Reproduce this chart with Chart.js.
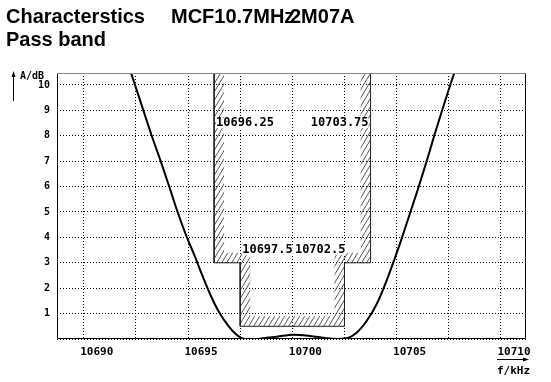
<!DOCTYPE html>
<html><head><meta charset="utf-8">
<script src="https://cdn.jsdelivr.net/npm/chart.js@4/dist/chart.umd.min.js"></script>
<style>html,body{margin:0;padding:0;background:#fff}#wrap{width:551px;height:382px}</style>
</head><body><div id="wrap"><canvas id="c" width="551" height="382"></canvas></div>
<script>
// ---- data ----
const freqKHz = [10692.05, 10692.27, 10692.46, 10692.86, 10693.26, 10693.69, 10694.10, 10694.50, 10694.97, 10695.33, 10695.65, 10696.05, 10696.45, 10696.93, 10697.33, 10697.73, 10698.29, 10698.77, 10699.25, 10700.05, 10700.85, 10701.64, 10702.12, 10702.60, 10703.08, 10703.56, 10704.04, 10704.52, 10704.90, 10705.24, 10705.64, 10706.04, 10706.44, 10706.80, 10707.18, 10707.57, 10708.05];
const attenDB = [11.0, 10.47, 10.0, 9.0, 8.0, 7.0, 6.0, 5.0, 3.95, 3.25, 2.57, 1.78, 1.11, 0.52, 0.17, 0.0, 0.0, 0.05, 0.09, 0.17, 0.12, 0.03, 0.0, 0.03, 0.25, 0.71, 1.37, 2.3, 3.15, 3.95, 4.95, 5.95, 7.0, 8.0, 9.0, 10.0, 11.15];
const maskFreq = [10696.25, 10696.25, 10697.5, 10697.5, 10702.5, 10702.5, 10703.75, 10703.75];
const maskAtten = [11.5, 3, 3, 0.5, 0.5, 3, 3, 11.5];
const xTickValues = [10690, 10692.5, 10695, 10697.5, 10700, 10702.5, 10705, 10707.5, 10710];
const xTickLabels = ['10690', '', '10695', '', '10700', '', '10705', '', '10710'];
const yTickValues = [0, 1, 2, 3, 4, 5, 6, 7, 8, 9, 10];
const yTickLabels = ['', '1', '2', '3', '4', '5', '6', '7', '8', '9', '10'];
const titleLine1a = 'Characterstics';
const titleLine1b = 'MCF10.7MHz';
const titleLine1c = '2M07A';
const titleLine2 = 'Pass band';
const yUnit = 'A/dB';
const xUnit = 'f/kHz';

const MONO = "'DejaVu Sans Mono', 'Liberation Mono', monospace";

const bgPlugin = {
  id: 'bg',
  beforeDraw(chart) {
    const ctx = chart.ctx;
    ctx.save();
    ctx.fillStyle = '#fff';
    ctx.fillRect(0, 0, chart.width, chart.height);
    ctx.restore();
  }
};

const hatchPlugin = {
  id: 'hatch',
  beforeDatasetsDraw(chart) {
    const {ctx, chartArea: ca, scales: {x, y}} = chart;
    const pts = maskFreq.map((f, i) => [x.getPixelForValue(f), Math.max(y.getPixelForValue(maskAtten[i]), ca.top)]);
    const d = 10;
    const sx = [1, 1, 1, 1, -1, -1, -1, -1];
    const sy = [0, -1, -1, -1, -1, -1, -1, 0];
    const inner = pts.map((p, i) => [p[0] + sx[i] * d, p[1] + sy[i] * d]);
    ctx.save();
    ctx.beginPath();
    pts.forEach((p, i) => i ? ctx.lineTo(p[0], p[1]) : ctx.moveTo(p[0], p[1]));
    ctx.closePath();
    inner.forEach((p, i) => i ? ctx.lineTo(p[0], p[1]) : ctx.moveTo(p[0], p[1]));
    ctx.closePath();
    ctx.clip('evenodd');
    ctx.strokeStyle = '#444';
    ctx.lineWidth = 0.9;
    ctx.beginPath();
    const h = ca.bottom - ca.top;
    for (let k = ca.left - h; k < ca.right + 10; k += 5) {
      ctx.moveTo(k, ca.bottom);
      ctx.lineTo(k + h * 0.6, ca.top);
    }
    ctx.stroke();
    ctx.restore();
  }
};

const labelPlugin = {
  id: 'labels',
  afterDatasetsDraw(chart) {
    const {ctx, chartArea: ca, scales: {x, y}} = chart;
    // frame
    ctx.save();
    ctx.lineWidth = 1;
    ctx.strokeStyle = '#000';
    const L = Math.round(ca.left) + 0.5, R = Math.round(ca.right) - 0.5, T = Math.round(ca.top) + 0.5, B = Math.round(ca.bottom) - 0.5;
    ctx.beginPath();
    ctx.moveTo(L, T); ctx.lineTo(L, B); ctx.lineTo(R, B); ctx.lineTo(R, T);
    ctx.stroke();
    ctx.strokeStyle = '#888';
    ctx.beginPath(); ctx.moveTo(L, T); ctx.lineTo(R, T); ctx.stroke();

    // mask frequency labels
    ctx.font = 'bold 12px ' + MONO;
    ctx.textBaseline = 'middle';
    const items = [
      {f: maskFreq[0], a: 8.5, al: 'left', dx: 2},
      {f: maskFreq[7], a: 8.5, al: 'right', dx: -2},
      {f: maskFreq[2], a: 3.5, al: 'left', dx: 2},
      {f: maskFreq[4], a: 3.5, al: 'right', dx: 1}
    ];
    items.forEach(it => {
      const t = String(it.f);
      const w = ctx.measureText(t).width;
      const px = x.getPixelForValue(it.f) + it.dx;
      const py = y.getPixelForValue(it.a);
      const left = it.al === 'left' ? px : px - w;
      ctx.fillStyle = '#fff';
      ctx.fillRect(left, py - 5, w, 10);
      ctx.fillStyle = '#000';
      ctx.textAlign = 'left';
      ctx.fillText(t, left, py);
    });
    ctx.restore();
  },
  afterDraw(chart) {
    const {ctx, scales: {x}} = chart;
    ctx.save();
    ctx.fillStyle = '#000';
    ctx.textBaseline = 'alphabetic';
    ctx.textAlign = 'left';
    ctx.font = "bold 20px 'Liberation Sans', Arial, sans-serif";
    ctx.fillText(titleLine1a, 6, 23);
    ctx.fillText(titleLine1b, 171, 23);
    ctx.fillText(titleLine1c, 290, 23);
    ctx.fillText(titleLine2, 6, 46);

    // y unit with arrow
    ctx.strokeStyle = '#000';
    ctx.lineWidth = 1;
    ctx.beginPath(); ctx.moveTo(13.5, 101); ctx.lineTo(13.5, 74); ctx.stroke();
    ctx.beginPath(); ctx.moveTo(13.5, 71); ctx.lineTo(11.5, 77); ctx.lineTo(15.5, 77); ctx.closePath(); ctx.fill();
    ctx.font = 'bold 10px ' + MONO;
    ctx.textBaseline = 'middle';
    ctx.fillText(yUnit, 20, 76);

    // x unit with arrow
    const xe = x.getPixelForValue(10710);
    ctx.beginPath(); ctx.moveTo(xe - 4, 359.5); ctx.lineTo(xe + 26, 359.5); ctx.stroke();
    ctx.beginPath(); ctx.moveTo(xe + 28, 359.5); ctx.lineTo(xe + 22, 357.5); ctx.lineTo(xe + 22, 361.5); ctx.closePath(); ctx.fill();
    ctx.font = 'bold 11px ' + MONO;
    ctx.fillText(xUnit, xe - 4, 371.5);
    ctx.restore();
  }
};

new Chart(document.getElementById('c'), {
  type: 'line',
  data: {
    datasets: [
      {label: 'mask', data: maskFreq.map((f, i) => ({x: f, y: maskAtten[i]})), borderColor: '#222', borderWidth: 1, pointRadius: 0, tension: 0, fill: false, order: 2, clip: 0},
      {label: 'response', data: freqKHz.map((f, i) => ({x: f, y: attenDB[i]})), borderColor: '#000', borderWidth: 2, pointRadius: 0, cubicInterpolationMode: 'monotone', fill: false, order: 1, clip: 0}
    ]
  },
  options: {
    responsive: false,
    animation: false,
    devicePixelRatio: 1,
    layout: {padding: {top: 73, right: 25, left: 0, bottom: 0}},
    plugins: {legend: {display: false}, tooltip: {enabled: false}, title: {display: false}},
    scales: {
      x: {
        type: 'linear', min: 10688.72, max: 10711.2,
        afterBuildTicks: s => { s.ticks = xTickValues.map(v => ({value: v})); },
        afterFit: s => { s.height = 43; },
        grid: {color: '#000', lineWidth: 1, drawTicks: false},
        border: {display: false, dash: [1, 2]},
        ticks: {autoSkip: false, maxRotation: 0, minRotation: 0, padding: 7, labelOffset: 13, color: '#000',
          font: {family: MONO, size: 11, weight: 'bold'},
          callback: (v, i) => xTickLabels[i]}
      },
      y: {
        type: 'linear', min: 0, max: 10.47,
        afterBuildTicks: s => { s.ticks = yTickValues.map(v => ({value: v})); },
        afterFit: s => { s.width = 57; },
        grid: {color: '#000', lineWidth: 1, drawTicks: false},
        border: {display: false, dash: [1, 2]},
        ticks: {autoSkip: false, padding: 7, color: '#000',
          font: {family: MONO, size: 10, weight: 'bold'},
          callback: (v, i) => yTickLabels[i]}
      }
    }
  },
  plugins: [bgPlugin, hatchPlugin, labelPlugin]
});
</script>
</body></html>
